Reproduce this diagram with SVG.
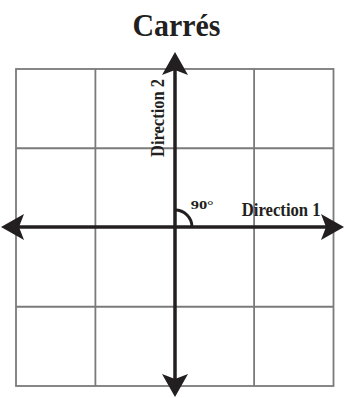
<svg xmlns="http://www.w3.org/2000/svg" width="345" height="398" viewBox="0 0 345 398">
<style>
.grid{fill:none;stroke:#7a7a7a;stroke-width:1.8}
.axis{stroke:#231f20;stroke-width:3.5;fill:none}
.t{font-family:"Liberation Serif","Times New Roman",serif;font-weight:bold;fill:#231f20}
</style>
<defs>
<marker id="ah" markerUnits="userSpaceOnUse" markerWidth="40" markerHeight="40" refX="0" refY="0" orient="auto-start-reverse" overflow="visible">
<path d="M18,0 L-5,-13 L0,0 L-5,13 Z" fill="#231f20"/>
</marker>
</defs>
<rect width="345" height="398" fill="#fff"/>
<text class="t" x="132.5" y="36" font-size="32" textLength="88" lengthAdjust="spacingAndGlyphs">Carrés</text>
<g id="grid">
<rect class="grid" x="16" y="69" width="317.5" height="317"/>
<line class="grid" x1="95.4" y1="69" x2="95.4" y2="386"/>
<line class="grid" x1="254.1" y1="69" x2="254.1" y2="386"/>
<line class="grid" x1="16" y1="148.25" x2="333.5" y2="148.25"/>
<line class="grid" x1="16" y1="306.75" x2="333.5" y2="306.75"/>
</g>
<g id="connectors">
<line class="axis" x1="19" y1="227" x2="326" y2="227" marker-start="url(#ah)" marker-end="url(#ah)"/>
<line class="axis" x1="175" y1="70" x2="175" y2="379" marker-start="url(#ah)" marker-end="url(#ah)"/>
<path d="M175,210 A17,17 0 0 1 192,227" stroke="#231f20" stroke-width="3" fill="none"/>
</g>
<g id="labels">
<text class="t" x="190.7" y="209" font-size="13.5" textLength="23" lengthAdjust="spacingAndGlyphs">90°</text>
<text class="t" x="241.7" y="216.3" font-size="19" textLength="79" lengthAdjust="spacingAndGlyphs">Direction 1</text>
<text class="t" font-size="18.5" textLength="78" lengthAdjust="spacingAndGlyphs" transform="translate(164,157) rotate(-90)">Direction 2</text>
</g>
</svg>
